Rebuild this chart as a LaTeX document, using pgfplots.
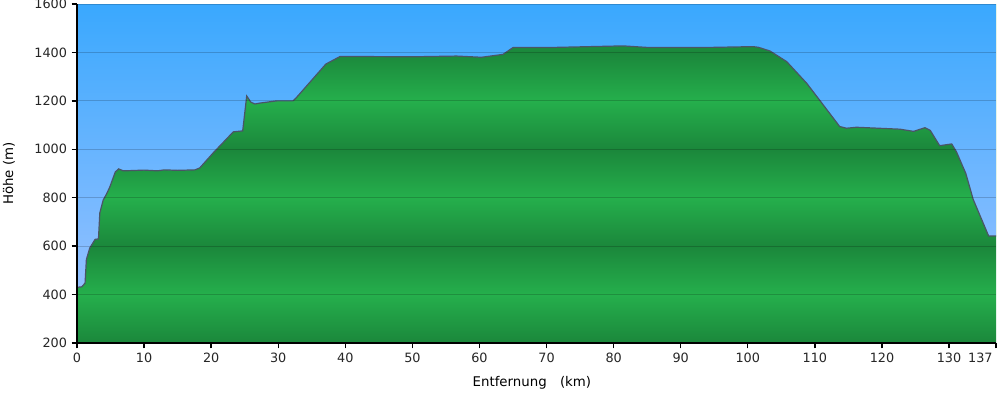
\documentclass[border=0pt]{standalone}
\usepackage{fontspec}
\setmainfont{DejaVu Sans}
\usepackage{pgfplots}
\usepackage{pgfplotstable}
\pgfplotsset{compat=1.18}
\definecolor{gdark}{HTML}{1B873B}
\definecolor{gbright}{HTML}{25AF4C}
\definecolor{skytop}{HTML}{3AA8FE}
\definecolor{skybot}{HTML}{92C0FF}
\definecolor{outl}{HTML}{4A5566}
\pgfdeclareverticalshading{greenbands}{100bp}{color(0bp)=(gdark); color(25bp)=(gdark); color(32.143bp)=(gbright); color(39.286bp)=(gdark); color(46.429bp)=(gbright); color(53.571bp)=(gdark); color(60.714bp)=(gbright); color(67.857bp)=(gdark); color(75bp)=(gbright); color(100bp)=(gbright)}
\pgfplotstableread{
km hoehe
0 430
0.7 432
1.2 447
1.4 545
1.9 592
2.7 628
3.2 630
3.4 737
3.9 790
4.4 815
4.9 845
5.7 906
6.2 919
6.9 911
8 912
10 914
12 911
13 915
15 913
17.6 915
18.3 923
20.3 985
23.3 1072
24.7 1076
25.3 1220
25.9 1195
26.5 1187
27.3 1191
29.8 1200
32.2 1200
32.6 1210
37.1 1352
39.2 1383
42.7 1383
50 1382
56.6 1385
60.3 1380
63.5 1392
65.0 1420
70 1420
76.5 1424
81.4 1427
85.4 1420
90 1420
95 1421
100.8 1424
101.6 1421
103.3 1406
105.8 1362
108.8 1272
113.7 1094
114.7 1087
116.2 1091
122.7 1083
124.7 1074
126.4 1089
127.2 1078
128.6 1015
130.4 1022
131.1 990
132.5 900
133.6 793
135.9 642
137 642
}\profil
\begin{document}
\begin{tikzpicture}
\path[use as bounding box] (-57.75pt,-38.25pt) rectangle (692.25pt,257.25pt);
\begin{axis}[
  scale only axis, width=689.25pt, height=254.25pt,
  xmin=0, xmax=137, ymin=200, ymax=1600,
  axis x line*=bottom, axis y line*=left,
  axis line style={black, line width=1.2pt, -},
  xtick={0,10,20,30,40,50,60,70,80,90,100,110,120,130},
  extra x ticks={137},
  extra x tick style={xticklabel style={anchor=north east, xshift=1pt}},
  ytick={200,400,600,800,1000,1200,1400,1600},
  tick align=outside, major tick length=4pt,
  tick style={black, line width=1pt},
  ymajorgrids, major grid style={black, opacity=0.18, line width=0.7pt},
  axis on top,
  /pgf/number format/assume math mode=true,
  /pgf/number format/1000 sep={},
  tick label style={font=\fontsize{9.6}{11}\selectfont, text=black!85},
  label style={font=\fontsize{9.6}{11}\selectfont, text=black!85},
  xlabel={Entfernung\quad(km)}, ylabel={Höhe (m)},
  every axis x label/.style={at={(axis description cs:0.495,-0.118)}, anchor=center},
  every axis y label/.style={at={(axis description cs:-0.074,0.5)}, rotate=90, anchor=center},
]
\fill[shading=greenbands] (rel axis cs:0,0) rectangle (rel axis cs:1,1);
\addplot[top color=skytop, bottom color=skybot, draw=none] table[x=km, y=hoehe] {\profil} -- (axis cs:137,1600) -- (axis cs:0,1600) -- cycle;
\addplot[outl, line width=0.9pt] table[x=km, y=hoehe] {\profil};
\end{axis}
\end{tikzpicture}
\end{document}
